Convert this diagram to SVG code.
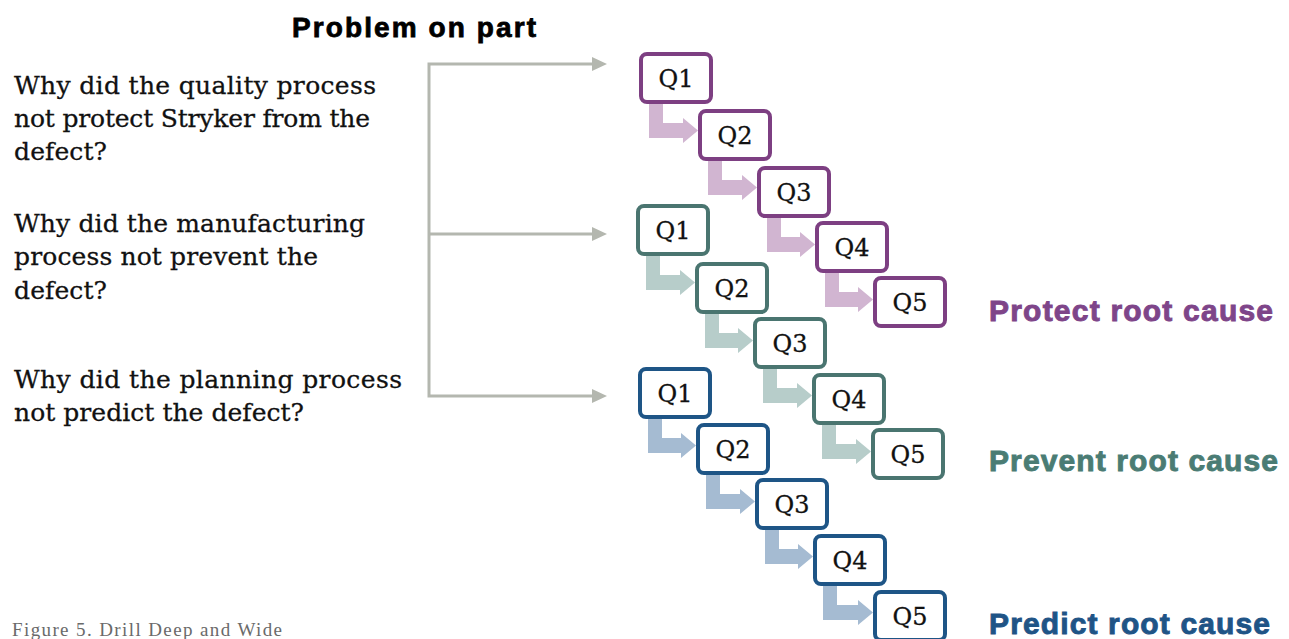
<svg xmlns="http://www.w3.org/2000/svg" width="1289" height="639" viewBox="0 0 1289 639">
<defs>
<style>
.q{font-family:"DejaVu Serif","Liberation Serif",serif;font-size:25px;fill:#111;stroke:#111;stroke-width:0.3}
.ql{font-family:"DejaVu Serif","Liberation Serif",serif;font-size:24px;fill:#111;text-anchor:middle;stroke:#111;stroke-width:0.3}
.box{fill:#fff;stroke-width:4}
.pb{stroke:#7D3F82}.tb{stroke:#4A7570}.bb{stroke:#1E5586}
.pa{fill:#D1B5D1}.ta{fill:#B7CDCA}.ba{fill:#A5BBD2}
.gl{stroke:#B4B7AF;stroke-width:3;fill:none}
.gh{fill:#B4B7AF}
.title{font-family:"Liberation Sans",Arial,sans-serif;font-weight:bold;font-size:30px;stroke-width:0.9}
</style>
</defs>
<rect width="1289" height="639" fill="#fff"/>
<text id="heading" x="292" y="37" font-family="Liberation Sans, Arial, sans-serif" font-weight="bold" font-size="28" textLength="244" fill="#000" stroke="#000" stroke-width="0.8">Problem on part</text>
<g id="questions">
<text class="q" x="14" y="94" textLength="362">Why did the quality process</text>
<text class="q" x="14" y="127" textLength="356">not protect Stryker from the</text>
<text class="q" x="14" y="160" textLength="93">defect?</text>
<text class="q" x="14" y="232" textLength="351">Why did the manufacturing</text>
<text class="q" x="14" y="265" textLength="304">process not prevent the</text>
<text class="q" x="14" y="299" textLength="93">defect?</text>
<text class="q" x="14" y="388" textLength="388">Why did the planning process</text>
<text class="q" x="14" y="421" textLength="290">not predict the defect?</text>
</g>
<g id="connectors">
<path class="gl" d="M592,64 H429 V396 H592 M429,234 H592"/>
<polygon class="gh" points="592,57 607,64 592,71"/>
<polygon class="gh" points="592,227 607,234 592,241"/>
<polygon class="gh" points="592,389 607,396 592,403"/>
<polygon class="pa" points="649,104 663,104 663,123 683,123 683,118 698,130.5 683,143 683,138 649,138"/>
<polygon class="pa" points="708,161 722,161 722,180 742,180 742,175 757,187.5 742,200 742,195 708,195"/>
<polygon class="pa" points="767,218 781,218 781,237 800,237 800,232 815,244.5 800,257 800,252 767,252"/>
<polygon class="pa" points="825,273 839,273 839,292 858,292 858,287 873,299.5 858,312 858,307 825,307"/>
<polygon class="ta" points="646,256 660,256 660,275 680,275 680,270 695,282.5 680,295 680,290 646,290"/>
<polygon class="ta" points="705,314 719,314 719,333 738,333 738,328 753,340.5 738,353 738,348 705,348"/>
<polygon class="ta" points="763,369 777,369 777,388 797,388 797,383 812,395.5 797,408 797,403 763,403"/>
<polygon class="ta" points="822,425 836,425 836,444 856,444 856,439 871,451.5 856,464 856,459 822,459"/>
<polygon class="ba" points="648,419 662,419 662,438 681,438 681,433 696,445.5 681,458 681,453 648,453"/>
<polygon class="ba" points="706,475 720,475 720,494 740,494 740,489 755,501.5 740,514 740,509 706,509"/>
<polygon class="ba" points="765,530 779,530 779,549 798,549 798,544 813,556.5 798,569 798,564 765,564"/>
<polygon class="ba" points="823,586 837,586 837,605 858,605 858,600 873,612.5 858,625 858,620 823,620"/>
</g>
<g id="p1"><rect class="box pb" x="641" y="54" width="70" height="48" rx="6"/><text class="ql" x="676" y="87">Q1</text></g>
<g id="p2"><rect class="box pb" x="700" y="111" width="70" height="48" rx="6"/><text class="ql" x="735" y="144">Q2</text></g>
<g id="p3"><rect class="box pb" x="759" y="168" width="70" height="48" rx="6"/><text class="ql" x="794" y="201">Q3</text></g>
<g id="p4"><rect class="box pb" x="817" y="223" width="70" height="48" rx="6"/><text class="ql" x="852" y="256">Q4</text></g>
<g id="p5"><rect class="box pb" x="875" y="278" width="70" height="48" rx="6"/><text class="ql" x="910" y="311">Q5</text></g>
<g id="t1"><rect class="box tb" x="638" y="206" width="70" height="48" rx="6"/><text class="ql" x="673" y="239">Q1</text></g>
<g id="t2"><rect class="box tb" x="697" y="264" width="70" height="48" rx="6"/><text class="ql" x="732" y="297">Q2</text></g>
<g id="t3"><rect class="box tb" x="755" y="319" width="70" height="48" rx="6"/><text class="ql" x="790" y="352">Q3</text></g>
<g id="t4"><rect class="box tb" x="814" y="375" width="70" height="48" rx="6"/><text class="ql" x="849" y="408">Q4</text></g>
<g id="t5"><rect class="box tb" x="873" y="430" width="70" height="48" rx="6"/><text class="ql" x="908" y="463">Q5</text></g>
<g id="b1"><rect class="box bb" x="640" y="369" width="70" height="48" rx="6"/><text class="ql" x="675" y="402">Q1</text></g>
<g id="b2"><rect class="box bb" x="698" y="425" width="70" height="48" rx="6"/><text class="ql" x="733" y="458">Q2</text></g>
<g id="b3"><rect class="box bb" x="757" y="480" width="70" height="48" rx="6"/><text class="ql" x="792" y="513">Q3</text></g>
<g id="b4"><rect class="box bb" x="815" y="536" width="70" height="48" rx="6"/><text class="ql" x="850" y="569">Q4</text></g>
<g id="b5"><rect class="box bb" x="875" y="592" width="70" height="48" rx="6"/><text class="ql" x="910" y="625">Q5</text></g>
<text id="protect" class="title" x="989" y="321" textLength="284" fill="#7E4589" stroke="#7E4589">Protect root cause</text>
<text id="prevent" class="title" x="989" y="471" textLength="289" fill="#4A7C74" stroke="#4A7C74">Prevent root cause</text>
<text id="predict" class="title" x="989" y="634" textLength="281" fill="#1F5486" stroke="#1F5486">Predict root cause</text>
<text id="caption" x="12" y="636" font-family="Liberation Serif, serif" font-size="19" textLength="270" fill="#6a6a6a">Figure 5.  Drill Deep and Wide</text>
</svg>
